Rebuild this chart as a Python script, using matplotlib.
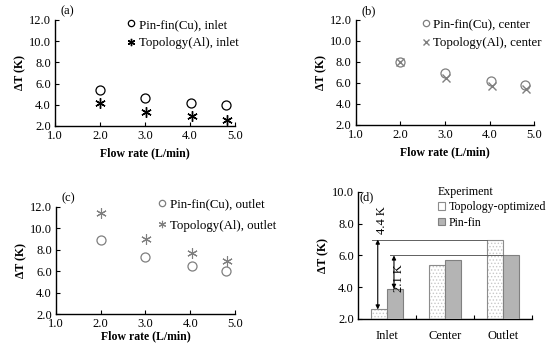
import matplotlib.pyplot as plt
import numpy as np

plt.rcParams['font.family'] = ['Liberation Serif', 'DejaVu Serif']
plt.rcParams['font.size'] = 9
plt.rcParams['hatch.linewidth'] = 0.6

# Data
flow_pin = [2.0, 3.0, 4.03, 4.8]
flow_topo = [2.0, 3.02, 4.05, 4.82]

inlet_pin = [5.4, 4.6, 4.15, 4.0]
inlet_topo = [4.2, 3.3, 2.9, 2.6]
center_pin = [8.0, 6.9, 6.2, 5.8]
center_topo = [8.0, 6.5, 5.7, 5.4]
outlet_pin = [8.9, 7.3, 6.45, 6.0]
outlet_topo = [11.4, 9.0, 7.7, 7.0]

positions = ['Inlet', 'Center', 'Outlet']
exp_topo = [2.6, 5.4, 7.0]
exp_pin = [3.9, 5.7, 6.0]

star = (6, 2, 0)
gray = '#7f7f7f'

fig = plt.figure(figsize=(5.5, 3.49), dpi=100)

def style_axes(ax, ylim, yticks):
    ax.spines['top'].set_visible(False)
    ax.spines['right'].set_visible(False)
    ax.spines['left'].set_linewidth(1.0)
    ax.spines['bottom'].set_linewidth(1.0)
    ax.set_ylim(*ylim)
    ax.set_yticks(yticks)
    ax.set_yticklabels(['%.1f' % v for v in yticks])
    ax.tick_params(direction='in', length=3, width=0.8, pad=3, labelsize=9)
    ax.set_ylabel('ΔT (K)', fontweight='bold', fontsize=8.5, labelpad=2)

def scatter_panel(rect, pin, topo, pin_label, topo_label, color, topo_marker,
                  topo_ms, topo_mew, tag, leg_anchor, spacing):
    ax = fig.add_axes(rect)
    ax.plot(flow_pin, pin, linestyle='none', marker='o', ms=6.5, mfc='none',
            mec=color, mew=0.9, label=pin_label)
    ax.plot(flow_topo, topo, linestyle='none', marker=topo_marker, ms=topo_ms,
            color=color, mew=topo_mew, label=topo_label)
    style_axes(ax, (2, 12), [2, 4, 6, 8, 10, 12])
    ax.set_xlim(1, 5)
    ax.set_xticks([1, 2, 3, 4, 5])
    ax.set_xticklabels(['1.0', '2.0', '3.0', '4.0', '5.0'])
    ax.set_xlabel('Flow rate (L/min)', fontweight='bold', fontsize=8.5, labelpad=4)
    ax.text(0.03, 1.08, tag, transform=ax.transAxes, ha='left', va='center')
    ax.legend(loc='upper left', bbox_to_anchor=leg_anchor, frameon=False,
              handlelength=0.6, handletextpad=0.3, labelspacing=spacing,
              markerscale=0.7, borderaxespad=0, borderpad=0, fontsize=9.3)
    return ax

ax_a = scatter_panel([0.1, 0.639, 0.327, 0.304], inlet_pin, inlet_topo,
                     'Pin-fin(Cu), inlet', 'Topology(Al), inlet', 'black', star,
                     7.5, 1.0, '(a)', (0.40, 1.01), 0.5)
ax_b = scatter_panel([0.647, 0.642, 0.324, 0.301], center_pin, center_topo,
                     'Pin-fin(Cu), center', 'Topology(Al), center', gray, 'x',
                     6, 1.0, '(b)', (0.37, 1.01), 0.5)
ax_c = scatter_panel([0.102, 0.100, 0.325, 0.307], outlet_pin, outlet_topo,
                     'Pin-fin(Cu), outlet', 'Topology(Al), outlet', gray, star,
                     7.5, 0.8, '(c)', (0.57, 1.08), 0.7)
ax_c.xaxis.labelpad = 0

# Panel (d): bar chart
ax_d = fig.add_axes([0.651, 0.086, 0.316, 0.364])
x = np.arange(len(positions))
w = 0.28
ax_d.bar(x - w / 2, exp_topo, w, bottom=0, facecolor='white', edgecolor='#c8c8c8',
         hatch='.....', linewidth=0, zorder=2)
ax_d.bar(x - w / 2, exp_topo, w, fill=False, edgecolor='#8c8c8c', linewidth=0.8,
         zorder=3, label='Topology-optimized')
ax_d.bar(x + w / 2, exp_pin, w, color='#b4b4b4', edgecolor='#808080', linewidth=0.8,
         zorder=3, label='Pin-fin')
style_axes(ax_d, (2, 10), [2, 4, 6, 8, 10])
ax_d.set_xlim(-0.5, 2.5)
ax_d.set_xticks(x)
ax_d.set_xticklabels(positions)
ax_d.set_xticks([0.5, 1.5, 2.5], minor=True)
ax_d.tick_params(axis='x', which='major', length=0, pad=8)
ax_d.tick_params(axis='x', which='minor', direction='in', length=3, width=0.8)

# reference lines and differences
ax_d.plot([-0.26, 1.72], [exp_topo[2], exp_topo[2]], color='#606060', lw=0.7, zorder=4)
ax_d.plot([0.05, 2.0], [exp_pin[2], exp_pin[2]], color='#606060', lw=0.7, zorder=4)
ax_d.annotate('', xy=(-0.16, exp_topo[0]), xytext=(-0.16, exp_topo[2]),
              arrowprops=dict(arrowstyle='<|-|>', color='black', lw=0.8,
                              mutation_scale=6, shrinkA=0, shrinkB=0), zorder=5)
ax_d.annotate('', xy=(0.12, exp_pin[0]), xytext=(0.12, exp_pin[2]),
              arrowprops=dict(arrowstyle='<|-|>', color='black', lw=0.8,
                              mutation_scale=6, shrinkA=0, shrinkB=0), zorder=5)
ax_d.text(-0.08, 8.25, '%.1f K' % (exp_topo[2] - exp_topo[0]), rotation=90,
          ha='center', va='center')
ax_d.text(0.21, 4.6, '%.1f K' % (exp_pin[2] - exp_pin[0]), rotation=90,
          ha='center', va='center')
ax_d.text(0.01, 0.96, '(d)', transform=ax_d.transAxes, ha='left', va='center')
ax_d.legend(loc='upper left', bbox_to_anchor=(0.46, 1.05), frameon=False,
            title='Experiment', alignment='left', handlelength=0.6, handleheight=0.6,
            handletextpad=0.3, labelspacing=0.3, borderaxespad=0, borderpad=0,
            fontsize=8.6, title_fontsize=8.6)

fig.savefig('out.png', dpi=100)
